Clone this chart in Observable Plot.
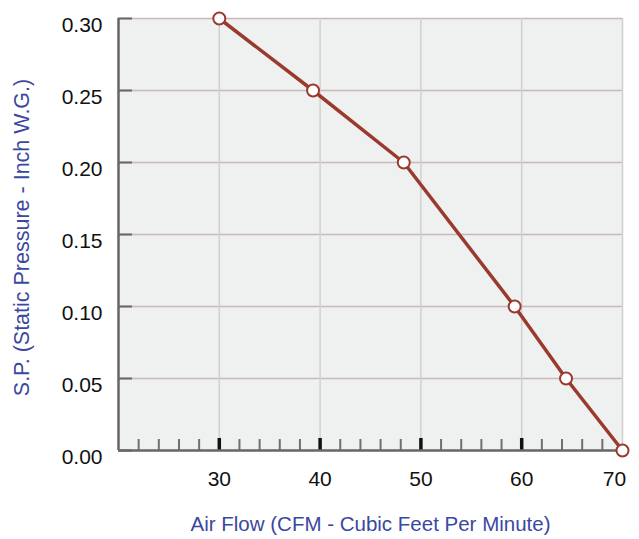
<!DOCTYPE html>
<html>
<head>
<meta charset="utf-8">
<script src="https://cdn.jsdelivr.net/npm/d3@7"></script>
<script src="https://cdn.jsdelivr.net/npm/@observablehq/plot@0.6"></script>
<style>
  html, body { margin: 0; padding: 0; background: #ffffff; }
  #chart svg { display: block; }
</style>
</head>
<body>
<div id="chart"></div>
<script>
// Data
const airFlow = [30, 39.3, 48.3, 59.3, 64.4, 70];
const staticPressure = [0.30, 0.25, 0.20, 0.10, 0.05, 0.00];

const yTicks = [0, 0.05, 0.10, 0.15, 0.20, 0.25, 0.30];
const xMajorTicks = [30, 40, 50, 60];
const xMinorTicks = [22, 24, 26, 28, 32, 34, 36, 38, 42, 44, 46, 48, 52, 54, 56, 58, 62, 64, 66, 68];
const xLabelTicks = [30, 40, 50, 60];
const xLastLabel = [70];
const xGridTicks = [30, 40, 50, 60, 70];

const xTitle = "Air Flow (CFM - Cubic Feet Per Minute)";
const yTitle = "S.P. (Static Pressure - Inch W.G.)";

const points = airFlow.map((x, i) => ({x, y: staticPressure[i]}));

const font = "'Liberation Sans', Arial, sans-serif";
const lineColor = "#9a3a2f";
const titleColor = "#3a48a0";

const chart = Plot.plot({
  width: 639,
  height: 539,
  marginLeft: 118,
  marginRight: 17,
  marginTop: 18,
  marginBottom: 89,
  style: {fontFamily: font, background: "#ffffff"},
  x: {domain: [20, 70]},
  y: {domain: [0, 0.30]},
  marks: [
    Plot.frame({fill: "#eff0f0", stroke: null}),
    Plot.gridY(yTicks.filter(d => d > 0), {stroke: "#c9b9b7", strokeOpacity: 1, strokeWidth: 1.5}),
    Plot.gridX(xGridTicks, {stroke: "#d4cfcf", strokeOpacity: 1, strokeWidth: 1.5}),
    Plot.axisY(yTicks, {tickSize: -14, tickFormat: () => "", stroke: "#6a6464", strokeWidth: 2, label: null}),
    Plot.axisY(yTicks, {tickSize: 0, tickPadding: 16, dy: 7, fontSize: 21, fill: "#111", label: null, tickFormat: d => d.toFixed(2)}),
    Plot.axisX(xMinorTicks, {tickSize: -11, tickFormat: () => "", stroke: "#6f6f6f", strokeWidth: 2, label: null}),
    Plot.axisX(xMajorTicks, {tickSize: -12, tickFormat: () => "", stroke: "#111", strokeWidth: 3.5, label: null}),
    Plot.axisX(xLabelTicks, {tickSize: 0, tickPadding: 21, fontSize: 21, fill: "#111", label: null}),
    Plot.axisX(xLastLabel, {tickSize: 0, tickPadding: 21, dx: -8, fontSize: 21, fill: "#111", label: null}),
    Plot.ruleX([20], {stroke: "#6a6464", strokeWidth: 2.5}),
    Plot.ruleY([0], {stroke: "#6a6464", strokeWidth: 2.5}),
    Plot.line(points, {x: "x", y: "y", stroke: lineColor, strokeWidth: 3.5}),
    Plot.dot(points, {x: "x", y: "y", r: 6, fill: "#ffffff", stroke: lineColor, strokeWidth: 2}),
    Plot.text([xTitle], {frameAnchor: "bottom", dy: 80, fontSize: 20.5, fill: titleColor, text: d => d}),
    Plot.text([yTitle], {frameAnchor: "left", textAnchor: "middle", dx: -96, dy: 3, rotate: -90, fontSize: 21.5, fill: titleColor, text: d => d})
  ]
});

document.getElementById("chart").appendChild(chart);
</script>
</body>
</html>
